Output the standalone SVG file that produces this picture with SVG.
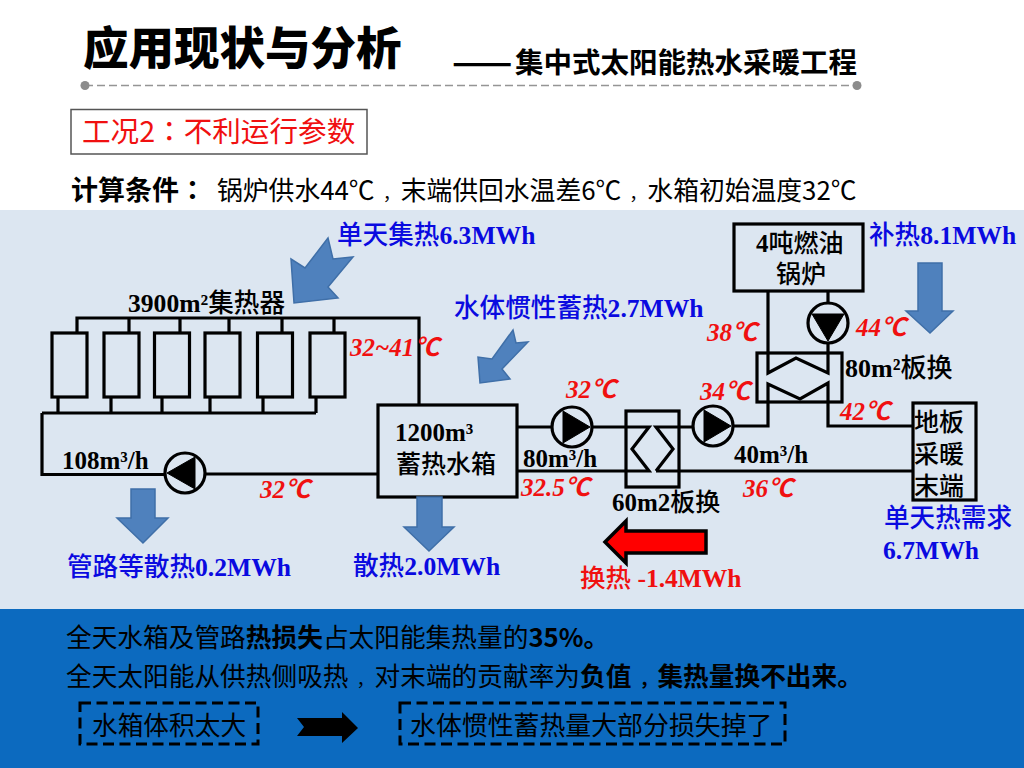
<svg xmlns="http://www.w3.org/2000/svg" width="1024" height="768" viewBox="0 0 1024 768">
<style>
text{font-family:"Noto Sans CJK SC","Noto Sans",sans-serif;fill:#000}
.s{font-family:"Liberation Serif","Noto Sans CJK SC",serif;font-weight:700}
.s tspan.c{font-weight:500}
.lb{font-size:25px;fill:#000}
.bl{font-size:25.600px;fill:#0a0ae0}
.t{font-size:25px;font-style:italic;fill:#f01010}
.red{font-size:25.500px;fill:#f01010}
.b{font-size:25.700px}
.bo{font-weight:700}
.cm{font-size:18px}
.tc{font-family:"Noto Sans CJK TC","Noto Sans",sans-serif}
.ln{fill:none;stroke:#000;stroke-width:3.200}
.box{fill:none;stroke:#000;stroke-width:3.200}
.pc{fill:#dce6f1;stroke:#000;stroke-width:3.200}
.ar{fill:#4f81bd;stroke:#3f6fa8;stroke-width:1.500}
.dash{fill:none;stroke:#000;stroke-width:3;stroke-dasharray:11 5.500}
</style>
<rect width="1024" height="768" fill="#fff"/>
<rect id="panel" x="0" y="210" width="1024" height="399" fill="#dce6f1"/>
<rect id="band" x="0" y="609" width="1024" height="159" fill="#0c6abf"/>
<g id="header">
<text x="83" y="65" font-size="45.500" font-weight="900">应用现状与分析</text>
<text x="452" y="75" font-size="35.500" font-weight="700">——</text>
<text x="515" y="73" font-size="28.500" font-weight="700">集中式太阳能热水采暖工程</text>
<line x1="85" y1="85.500" x2="857" y2="85.500" stroke="#959595" stroke-width="1.500" stroke-dasharray="8 4"/>
<circle cx="85" cy="85.500" r="4.500" fill="#8c8c8c"/>
<circle cx="857" cy="85.500" r="4.500" fill="#8c8c8c"/>
</g>
<g id="condition">
<rect x="71" y="109.500" width="296" height="44.500" fill="#fff" stroke="#555" stroke-width="1.500"/>
<text x="82" y="142" font-size="28.600" style="fill:#f01010">工况2<tspan class="tc">：</tspan>不利运行参数</text>
<text x="71" y="200" font-size="27" font-weight="700">计算条件<tspan class="tc">：</tspan></text>
<text x="217" y="200" font-size="25.800">锅炉供水44℃<tspan class="cm" dx="8">，</tspan>末端供回水温差6℃<tspan class="cm" dx="8">，</tspan>水箱初始温度32℃</text>
</g>
<g id="connectors">
<path class="ln" d="M77 333V318H419V405M129 318V333M180 318V333M229 318V333M282 318V333M334 318V333"/>
<path class="ln" d="M58 397V413M111 397V413M162 397V413M210 397V413M263 397V413M316 397V413M42 413H316M42 413V474.500H165M205 474H378"/>
<path class="ln" d="M517 427H552M592 427H649L632 449L649 471H517M656 471L673 449L656 427H693M656 471H913"/>
<path class="ln" d="M733 426H768V384L800 399L828 383V426H913M768 291V373L796 358L828 373V343M828 291V303"/>
</g>
<g id="collectors">
<rect class="box" x="52" y="333" width="35" height="64"/>
<rect class="box" x="104" y="333" width="35" height="64"/>
<rect class="box" x="154.500" y="333" width="35" height="64"/>
<rect class="box" x="205" y="333" width="35" height="64"/>
<rect class="box" x="257.500" y="333" width="35" height="64"/>
<rect class="box" x="310" y="333" width="35" height="64"/>
<text class="s lb" x="128" y="312" style="font-size:25.600px">3900m²<tspan class="c">集热器</tspan></text>
</g>
<g id="tank">
<rect class="box" x="378" y="405" width="139" height="92"/>
<text class="s lb" x="395" y="441">1200m³</text>
<text class="s lb" x="396" y="473"><tspan class="c">蓄热水箱</tspan></text>
</g>
<g id="pump1"><circle class="pc" cx="185" cy="473" r="20"/><path d="M167 473L195 457V489Z" stroke="#000"/></g>
<g id="pump2"><circle class="pc" cx="572" cy="427" r="20"/><path d="M590 427L563 411V443Z" stroke="#000"/></g>
<g id="pump3"><circle class="pc" cx="713" cy="426" r="20"/><path d="M731 426L704 410V442Z" stroke="#000"/></g>
<g id="pump4"><circle class="pc" cx="828" cy="323" r="20"/><path d="M828 341L812 314H844Z" stroke="#000"/></g>
<g id="hx60"><rect class="box" x="626" y="411" width="53" height="76"/><text class="s lb" x="612" y="511">60m2<tspan class="c">板换</tspan></text></g>
<g id="hx80"><rect class="box" x="757" y="353" width="85" height="49"/><text class="s lb" x="845" y="377" style="font-size:26px">80m²<tspan class="c">板换</tspan></text></g>
<g id="boiler"><rect class="box" x="734" y="224" width="129" height="67"/>
<text class="s lb" x="756" y="252">4<tspan class="c">吨燃油</tspan></text><text class="s lb" x="776" y="283"><tspan class="c">锅炉</tspan></text></g>
<g id="terminal"><rect class="box" x="913" y="403" width="63" height="97"/>
<text class="s lb" x="914" y="431"><tspan class="c">地板</tspan></text><text class="s lb" x="914" y="463"><tspan class="c">采暖</tspan></text><text class="s lb" x="914" y="495"><tspan class="c">末端</tspan></text></g>
<g id="flows">
<path class="ar" d="M328 238L333 259L353 257L328 287L338 298L294 303L291 259L305 268Z"/>
<path class="ar" d="M513 330L516 343L528 342L502 369L510 379L480 383L478 357L492 359Z"/>
<path class="ar" d="M918 263H942V311H953L930 333L906 311H918Z"/>
<path class="ar" d="M131 489H155V518H168L143 543L117 518H131Z"/>
<path class="ar" d="M417 497H442V527H454L429 551L404 527H417Z"/>
<path d="M605 542L626 521V531H706V553H626V563Z" fill="#ff0000" stroke="#000" stroke-width="3.500"/>
</g>
<g id="labels">
<text class="s bl" x="337" y="244"><tspan class="c">单天集热</tspan>6.3MWh</text>
<text class="s bl" x="454" y="317"><tspan class="c">水体惯性蓄热</tspan>2.7MWh</text>
<text class="s bl" x="869" y="244"><tspan class="c">补热</tspan>8.1MWh</text>
<text class="s bl" x="67" y="576"><tspan class="c">管路等散热</tspan>0.2MWh</text>
<text class="s bl" x="353" y="575"><tspan class="c">散热</tspan>2.0MWh</text>
<text class="s bl" x="884" y="527"><tspan class="c">单天热需求</tspan></text>
<text class="s bl" x="883" y="559">6.7MWh</text>
<text class="s lb" x="62" y="469">108m³/h</text>
<text class="s lb" x="523" y="467">80m³/h</text>
<text class="s lb" x="734" y="463">40m³/h</text>
<text class="s red" x="580" y="587"><tspan class="c">换热</tspan> -1.4MWh</text>
<text class="s t" x="350" y="356">32~41℃</text>
<text class="s t" x="566" y="398">32℃</text>
<text class="s t" x="707" y="341">38℃</text>
<text class="s t" x="856" y="336">44℃</text>
<text class="s t" x="700" y="400">34℃</text>
<text class="s t" x="840" y="420">42℃</text>
<text class="s t" x="260" y="498">32℃</text>
<text class="s t" x="521" y="496">32.5℃</text>
<text class="s t" x="743" y="497">36℃</text>
</g>
<g id="summary">
<text class="b" x="66" y="647">全天水箱及管路<tspan class="bo">热损失</tspan>占太阳能集热量的<tspan class="bo">35%。</tspan></text>
<text class="b" x="66" y="686">全天太阳能从供热侧吸热<tspan class="cm" dx="8">，</tspan>对末端的贡献率为<tspan class="bo">负值<tspan class="cm" dx="8">，</tspan>集热量换不出来。</tspan></text>
<rect class="dash" x="80" y="703" width="178" height="41"/>
<text class="b" x="92" y="735">水箱体积太大</text>
<path d="M297 718H342V712L358 728L342 743V736H297L304 727Z" fill="#000"/>
<rect class="dash" x="400" y="703" width="385" height="41"/>
<text class="b" x="410" y="735" style="font-size:25.900px">水体惯性蓄热量大部分损失掉了</text>
</g>
</svg>
